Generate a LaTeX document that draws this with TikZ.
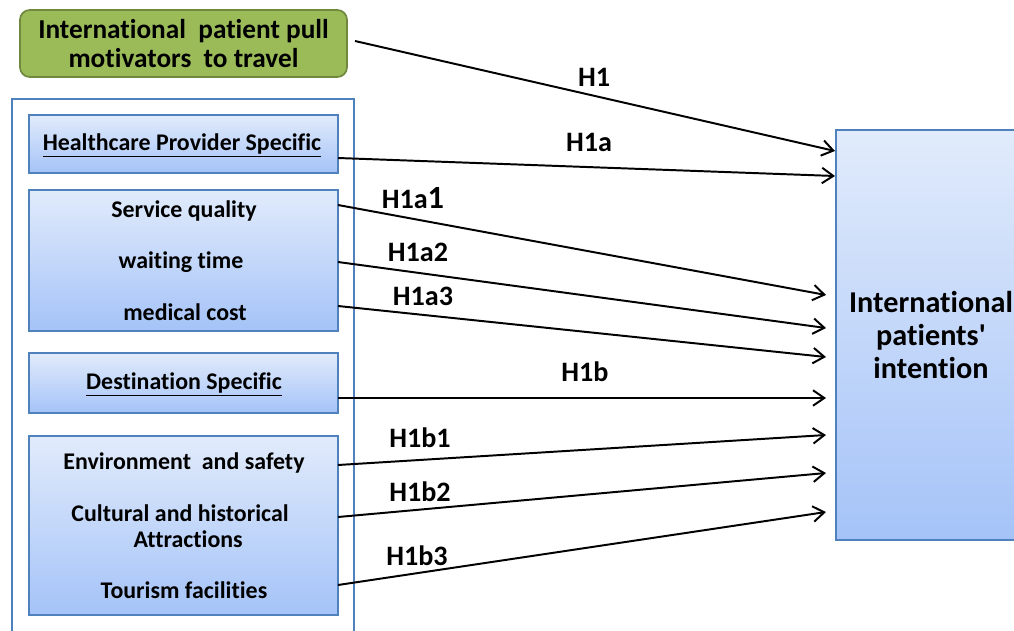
\documentclass[tikz,border=0pt]{standalone}
\usepackage{fontspec}
\setmainfont{Carlito}[Ligatures=NoCommon]
\usetikzlibrary{arrows.meta,shadows}
\definecolor{boxtop}{HTML}{E1EBFB}
\definecolor{boxbot}{HTML}{A5C3F8}
\definecolor{boxline}{HTML}{4F81BD}
\definecolor{pullfill}{HTML}{9BBB59}
\definecolor{pullline}{HTML}{71893F}
\tikzset{
  factorbox/.style={draw=boxline, line width=0.8pt, top color=boxtop, bottom color=boxbot,
    minimum width=7.725cm, inner sep=0pt,
    drop shadow={opacity=0.35, shadow xshift=0.7pt, shadow yshift=-0.9pt}},
  itemtext/.style={font=\fontsize{17}{22}\selectfont\bfseries, inner sep=1pt},
  hyp/.style={font=\fontsize{20}{22}\selectfont\bfseries, inner sep=1pt},
  link/.style={line width=1.4pt, -{Straight Barb[length=8pt,width=11pt]}},
}
\begin{document}
\begin{tikzpicture}[x=0.025cm, y=-0.025cm]
\path[use as bounding box, clip] (0,0) rectangle (1014,631);

% pull motivators
\node[draw=pullline, line width=1.2pt, fill=pullfill, rounded corners=7pt,
  minimum width=8.175cm, minimum height=1.675cm, align=center,
  font=\fontsize{19.4}{20}\selectfont\bfseries] (pull) at (183.5,43.5)
  {International\ \ patient pull\\motivators\ \ to travel};

% outer frame
\draw[boxline, line width=1.2pt] (12,99) rectangle (354,645);

% left boxes
\node[factorbox, minimum height=1.45cm] (hps) at (183.5,144) {};
\node[factorbox, minimum height=3.525cm] (sqbox) at (183.5,260.5) {};
\node[factorbox, minimum height=1.5cm] (dsbox) at (183.5,383) {};
\node[factorbox, minimum height=4.475cm] (envbox) at (183.5,525.5) {};

\node[itemtext] (hpstext) at (182,145) {\underline{Healthcare Provider Specific}};
\node[itemtext] (sq) at (184,211) {Service quality};
\node[itemtext] (wait) at (181,262) {waiting time};
\node[itemtext] (cost) at (185,312) {medical cost};
\node[itemtext] (dstext) at (184,384) {\underline{Destination Specific}};
\node[itemtext] (env) at (184,463) {Environment\ \ and safety};
\node[itemtext, align=center, font=\fontsize{17}{18.5}\selectfont\bfseries] (cult) at (180,526)
  {Cultural and historical\\\ \ \ Attractions};
\node[itemtext] (tour) at (184,590) {Tourism facilities};

% intention
\node[draw=boxline, line width=0.8pt, top color=boxtop, bottom color=boxbot,
  minimum width=4.85cm, minimum height=10.25cm,
  drop shadow={opacity=0.35, shadow xshift=0.7pt, shadow yshift=-0.9pt}] (intent) at (933,335) {};
\node[align=center, font=\fontsize{21.5}{23.5}\selectfont\bfseries] (intenttext) at (931,335)
  {International\\patients\textquotesingle\\intention};

% arrow ends
\coordinate (s1) at (355,41);
\coordinate (e1) at (835,151);
\coordinate (s2) at (338,158);
\coordinate (e2) at (835,176);
\coordinate (s3) at (338,205);
\coordinate (e3) at (826,295);
\coordinate (s4) at (338,262);
\coordinate (e4) at (826,328);
\coordinate (s5) at (338,306);
\coordinate (e5) at (826,357);
\coordinate (s6) at (338,398);
\coordinate (e6) at (826,398);
\coordinate (s7) at (338,465);
\coordinate (e7) at (826,435);
\coordinate (s8) at (338,517);
\coordinate (e8) at (826,473);
\coordinate (s9) at (338,585);
\coordinate (e9) at (826,512);

\draw[link] (s1) -- (e1);
\draw[link] (s2) -- (e2);
\draw[link] (s3) -- (e3);
\draw[link] (s4) -- (e4);
\draw[link] (s5) -- (e5);
\draw[link] (s6) -- (e6);
\draw[link] (s7) -- (e7);
\draw[link] (s8) -- (e8);
\draw[link] (s9) -- (e9);

% hypotheses
\node[hyp] (h1) at (594,77) {H1};
\node[hyp] (h1a) at (589,142) {H1a};
\node[hyp] (h1a1) at (413,198) {H1a{\fontsize{23}{23}\selectfont 1}};
\node[hyp] (h1a2) at (418,252) {H1a2};
\node[hyp] (h1a3) at (423,296) {H1a3};
\node[hyp] (h1b) at (585,372) {H1b};
\node[hyp] (h1b1) at (420,438) {H1b1};
\node[hyp] (h1b2) at (420,492) {H1b2};
\node[hyp] (h1b3) at (417,556) {H1b3};
\end{tikzpicture}
\end{document}
